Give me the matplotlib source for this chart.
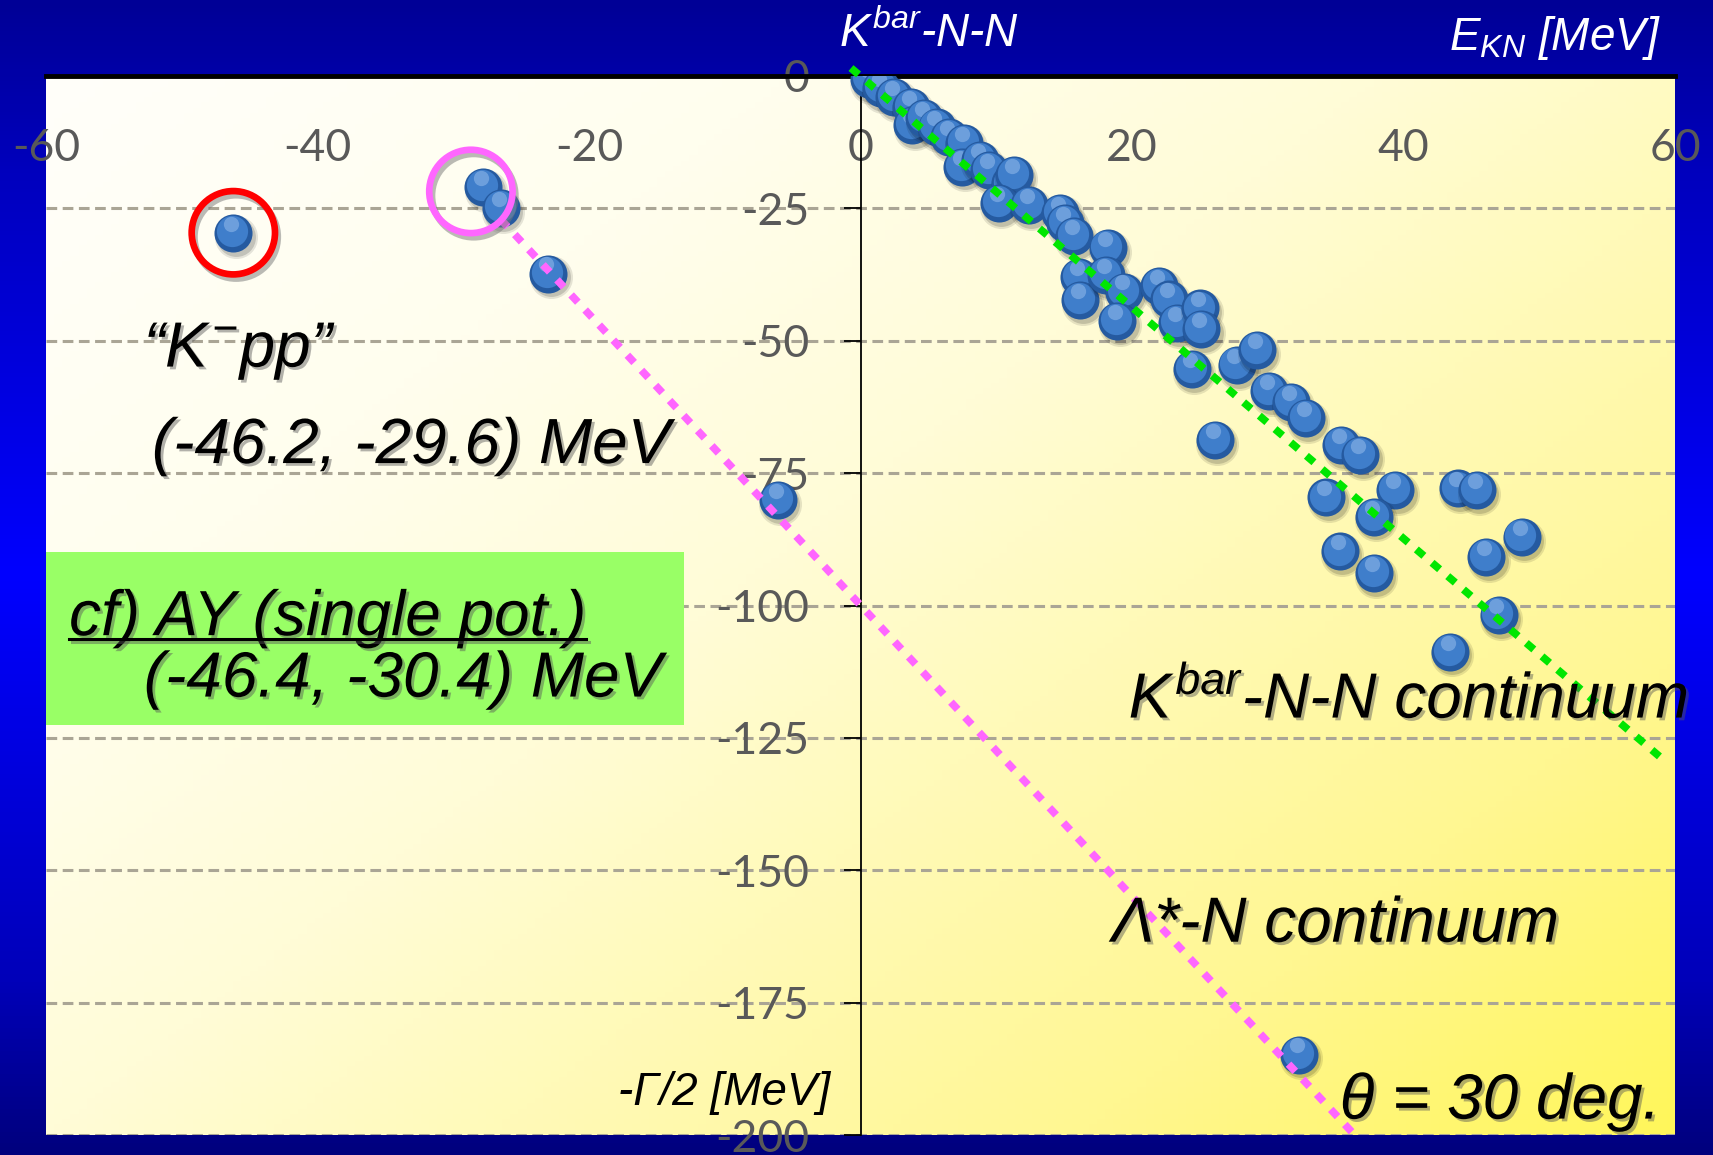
import matplotlib
matplotlib.use('Agg')
import matplotlib.pyplot as plt
import matplotlib.patheffects as pe
import matplotlib.transforms as mtransforms
from matplotlib.patches import Rectangle
import numpy as np

# complex eigen-energies (E_KN, -Gamma/2) in MeV
E_left = [-46.2, -27.8, -26.5, -23.0, -6.1, 32.3]
G_left = [-29.6, -20.9, -25.0, -37.3, -80.1, -184.8]

E_cont = [0.6, 1.5, 2.5, 3.7, 3.8, 4.7, 5.6, 6.5, 7.6, 7.5, 8.8, 9.5, 11.0, 11.3,
          10.2, 12.4, 14.7, 15.1, 15.7, 18.2, 16.1, 16.2, 18.1, 19.4, 18.9, 22.0,
          22.7, 23.3, 25.0, 25.1, 24.4, 27.7, 29.2, 30.1, 31.7, 32.8, 26.1, 35.4,
          36.8, 39.4, 34.3, 37.8, 35.3, 37.8, 44.0, 45.4, 48.7, 46.1, 47.0, 43.4]
G_cont = [-0.6, -2.3, -3.9, -5.8, -9.2, -8.0, -9.6, -11.5, -12.7, -17.1, -15.9, -17.8,
          -20.3, -18.7, -24.0, -24.4, -25.9, -27.8, -30.3, -32.5, -37.9, -42.3, -37.6,
          -40.7, -46.2, -39.6, -42.2, -46.7, -43.9, -47.8, -55.3, -54.6, -51.7, -59.5,
          -61.5, -64.6, -68.7, -69.7, -71.6, -78.2, -79.6, -83.2, -89.8, -93.9, -77.9,
          -78.2, -87.0, -90.8, -101.8, -108.7]

# continuum lines
kbar_line_x = [-0.7, 58.9]
kbar_line_y = [1.5, -128.6]
lam_line_x = [-26.5, 36.4]
lam_line_y = [-27.1, -200.0]

# circled states
circ_x = [-46.2, -28.7]
circ_y = [-29.6, -21.8]
circ_col = ['#ff0000', '#ff66ff']

x_ticks = [-60, -40, -20, 0, 20, 40, 60]
y_ticks = [0, -25, -50, -75, -100, -125, -150, -175, -200]

plt.rcParams['mathtext.fontset'] = 'custom'
plt.rcParams['mathtext.it'] = 'Liberation Sans:italic'
plt.rcParams['mathtext.rm'] = 'Liberation Sans:italic'
plt.rcParams['mathtext.sf'] = 'Liberation Sans:italic'

W, H = 1713, 1155
fig = plt.figure(figsize=(W / 100, H / 100), dpi=100)

# slide background (blue gradient)
bg = fig.add_axes([0, 0, 1, 1], zorder=-10)
yy = np.linspace(0, 1, 300)
stops_t = [0.0, 0.15, 0.5, 0.85, 1.0]
stops_b = [150, 190, 255, 185, 125]
blue = np.interp(yy, stops_t, stops_b) / 255
img = np.zeros((300, 1, 3))
img[:, 0, 2] = blue
bg.imshow(img, extent=[0, 1, 0, 1], aspect='auto', origin='upper')
bg.axis('off')

ax = fig.add_axes([46 / W, 1 - 1135 / H, (1675 - 46) / W, (1135 - 76) / H])
ax.set_xlim(-60, 60)
ax.set_ylim(-200, 0)
ax.patch.set_visible(False)

# plot area gradient: white top-left -> yellow bottom-right
n = 200
u = np.linspace(0, 1, n)
U, V = np.meshgrid(u, u)
T = 0.55 * U + 0.45 * V
ts = [0.0, 0.25, 0.45, 0.6, 0.8, 1.0]
gg = [255, 254, 252, 250, 247, 246]
bb = [250, 238, 215, 185, 145, 90]
grad = np.dstack([np.ones_like(T) * 255, np.interp(T, ts, gg), np.interp(T, ts, bb)]) / 255
ax.imshow(grad, extent=[-60, 60, -200, 0], aspect='auto', origin='upper', zorder=0)

# axes styling
for s in ['right', 'bottom']:
    ax.spines[s].set_visible(False)
ax.spines['top'].set_linewidth(3.5)
ax.spines['top'].set_color('black')
ax.spines['left'].set_position(('data', 0))
ax.spines['left'].set_linewidth(1.3)
ax.spines['left'].set_zorder(2)
ax.set_xticks([])
ax.set_yticks(y_ticks)
ax.set_yticklabels([str(t) for t in y_ticks])
ax.tick_params(axis='y', direction='out', length=12, width=1.3, pad=25,
               labelsize=32, labelcolor='#595959')
for lbl in ax.get_yticklabels():
    lbl.set_fontfamily(['Lato', 'DejaVu Sans'])
ax.yaxis.grid(True, color='#aaa595', linestyle=(0, (3.5, 1.8)), lw=2.2)
ax.set_axisbelow(True)

for t in x_ticks:
    ax.text(t, -13.6, str(t), ha='center', va='center', fontsize=32,
            color='#595959', family=['Lato', 'DejaVu Sans'], zorder=2)

# blue "spheres"
def ball(x, y, z):
    sh = mtransforms.offset_copy(ax.transData, fig=fig, x=1.8, y=-2.8, units='points')
    mid = mtransforms.offset_copy(ax.transData, fig=fig, x=-0.8, y=1.4, units='points')
    hi = mtransforms.offset_copy(ax.transData, fig=fig, x=-1.5, y=6.5, units='points')
    ax.scatter([x], [y], s=31 ** 2, color='k', alpha=0.10, transform=sh, lw=0, zorder=z)
    ax.scatter([x], [y], s=28 ** 2, color='k', alpha=0.15, transform=sh, lw=0, zorder=z)
    ax.scatter([x], [y], s=27.4 ** 2, color='#255aa0', lw=0, zorder=z + 0.0001)
    ax.scatter([x], [y], s=22.5 ** 2, color='#3f7ecb', lw=0, transform=mid, zorder=z + 0.0002)
    ax.scatter([x], [y], s=11 ** 2, color='#9cc0ee', alpha=0.5, lw=0, transform=hi,
               zorder=z + 0.0003)

allx = E_cont + E_left
ally = G_cont + G_left
for i, (x, y) in enumerate(zip(allx, ally)):
    ball(x, y, 3 + i * 0.001)

# continuum lines
ax.plot(kbar_line_x, kbar_line_y, color='#00e600', lw=5.5, dashes=(1.3, 1.4),
        dash_capstyle='butt', zorder=5, clip_on=False)
ax.plot(lam_line_x, lam_line_y, color='#ff66ff', lw=5.5, dashes=(1.3, 1.4),
        dash_capstyle='butt', zorder=5)

# circles around the states
for cx, cy, cc in zip(circ_x, circ_y, circ_col):
    ax.plot([cx], [cy], marker='o', ms=60, mfc='none', mec=cc, mew=4.8, zorder=6,
            path_effects=[pe.SimpleLineShadow(offset=(2, -3), shadow_color='#777777', alpha=0.5),
                          pe.Normal()])

# green box
ax.add_patch(Rectangle((-60, -122.6), 47.0, 32.7, facecolor='#99ff66', edgecolor='none',
                       zorder=2))

shadow = [pe.SimplePatchShadow(offset=(2, -2), shadow_rgbFace='#555555', alpha=0.45), pe.Normal()]
fam = ['Liberation Sans', 'DejaVu Sans']
kw = dict(fontsize=46, style='italic', family=fam, color='black', va='baseline',
          zorder=7, path_effects=shadow)

ax.text(-52.8, -54.9, '“$K^{-}$pp”', ha='left', **kw)
ax.text(-52.2, -73.1, '(-46.2, -29.6) MeV', ha='left', **kw)
t_cf = ax.text(-58.3, -105.6, 'cf) AY (single pot.)', ha='left', **kw)
ax.text(-52.8, -117.2, '(-46.4, -30.4) MeV', ha='left', **kw)
ax.text(19.75, -121.2, '$K^{bar}$-N-N continuum', ha='left', **kw)
ax.text(18.5, -163.5, 'Λ*-N continuum', ha='left', **kw)
ax.text(35.3, -196.9, 'θ = 30 deg.', ha='left', **kw)
ax.text(-2.2, -194.3, '-Γ/2 [MeV]', ha='right', fontsize=33, style='italic', family=fam,
        color='black', va='baseline', zorder=7)

# underline for the cf) line
renderer = fig.canvas.get_renderer()
bb_cf = t_cf.get_window_extent(renderer=renderer)
x_end = ax.transData.inverted().transform((bb_cf.x1, bb_cf.y0))[0]
ax.plot([-58.3, x_end], [-106.3, -106.3], color='black', lw=2.2, zorder=7,
        path_effects=[pe.SimpleLineShadow(offset=(2, -2), shadow_color='#555555', alpha=0.45),
                      pe.Normal()])

# top labels
fig.text(839 / W, 1 - 46.7 / H, '$K^{bar}$-N-N', color='white', fontsize=33, style='italic',
         family=fam, ha='left', va='baseline')
fig.text(1661 / W, 1 - 50 / H, '$E_{KN}$ [MeV]', color='white', fontsize=33, style='italic',
         family=fam, ha='right', va='baseline')

fig.savefig('out.png', dpi=100)
